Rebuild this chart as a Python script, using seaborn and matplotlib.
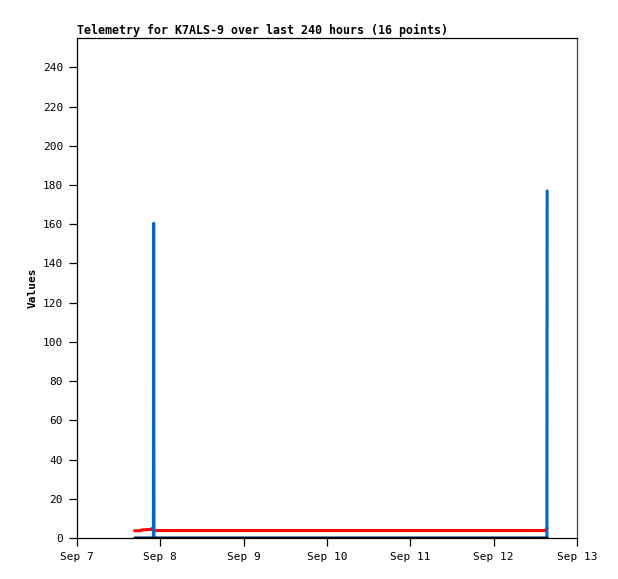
import numpy as np
import matplotlib
matplotlib.use("Agg")
import matplotlib.pyplot as plt
import seaborn as sns
import pandas as pd

# hours after Sep 7 00:00 for the 16 telemetry points
hours = [16.6, 17.4, 18.2, 18.9, 19.6, 20.4, 21.1, 21.6, 22.0, 22.08, 22.16, 22.4,
         134.2, 134.8, 135.33, 135.4]
red_vals = [3.7, 3.7, 3.7, 4.2, 4.2, 4.3, 4.3, 4.8, 3.9, 3.8, 3.8, 3.8,
            3.8, 3.8, 4.9, 5.0]
blue_vals = [0, 0, 0, 0, 0, 0, 0, 0, 0, 160.5, 0, 0,
             0, 0, 0, 177]
black_vals = [0] * 16

tick_labels = ["Sep 7", "Sep 8", "Sep 9", "Sep 10", "Sep 11", "Sep 12", "Sep 13"]
start = pd.Timestamp("2023-09-07")

df = pd.DataFrame({
    "time": start + pd.to_timedelta(hours, unit="h"),
    "red": red_vals,
    "blue": blue_vals,
    "black": black_vals,
})

sns.set_style("white")
plt.rcParams["font.family"] = ["DejaVu Sans Mono"]
plt.rcParams["text.color"] = "black"
plt.rcParams["axes.labelcolor"] = "black"
plt.rcParams["xtick.color"] = "black"
plt.rcParams["ytick.color"] = "black"

fig = plt.figure(figsize=(6.18, 5.79), dpi=100)
ax = fig.add_axes([77 / 618, 41 / 579, 500 / 618, 500 / 579])

sns.lineplot(data=df, x="time", y="red", color="#ff0000", lw=2.2, ax=ax, estimator=None)
sns.lineplot(data=df, x="time", y="blue", color="#0066cc", lw=2.2, ax=ax, estimator=None)
sns.lineplot(data=df, x="time", y="black", color="black", lw=2.4, ax=ax, estimator=None)

ticks = [start + pd.Timedelta(days=i) for i in range(len(tick_labels))]
ax.set_xticks(ticks)
ax.set_xticklabels(tick_labels)
ax.set_xlim(ticks[0], ticks[-1])
ax.set_ylim(0, 255)
ax.set_yticks(range(0, 241, 20))

for s in ax.spines.values():
    s.set_color("black")
    s.set_linewidth(0.9)
ax.spines["right"].set_color("#444444")

ax.tick_params(direction="out", length=6, width=0.9, color="black",
               labelsize=8, pad=4, left=True, bottom=True)
ax.set_xlabel("")
ax.set_ylabel("Values", fontsize=8, weight="bold", labelpad=4)
ax.set_title("Telemetry for K7ALS-9 over last 240 hours (16 points)",
             loc="left", fontsize=8.4, weight="bold", pad=3)

fig.savefig("out.png", dpi=100, facecolor="white")
